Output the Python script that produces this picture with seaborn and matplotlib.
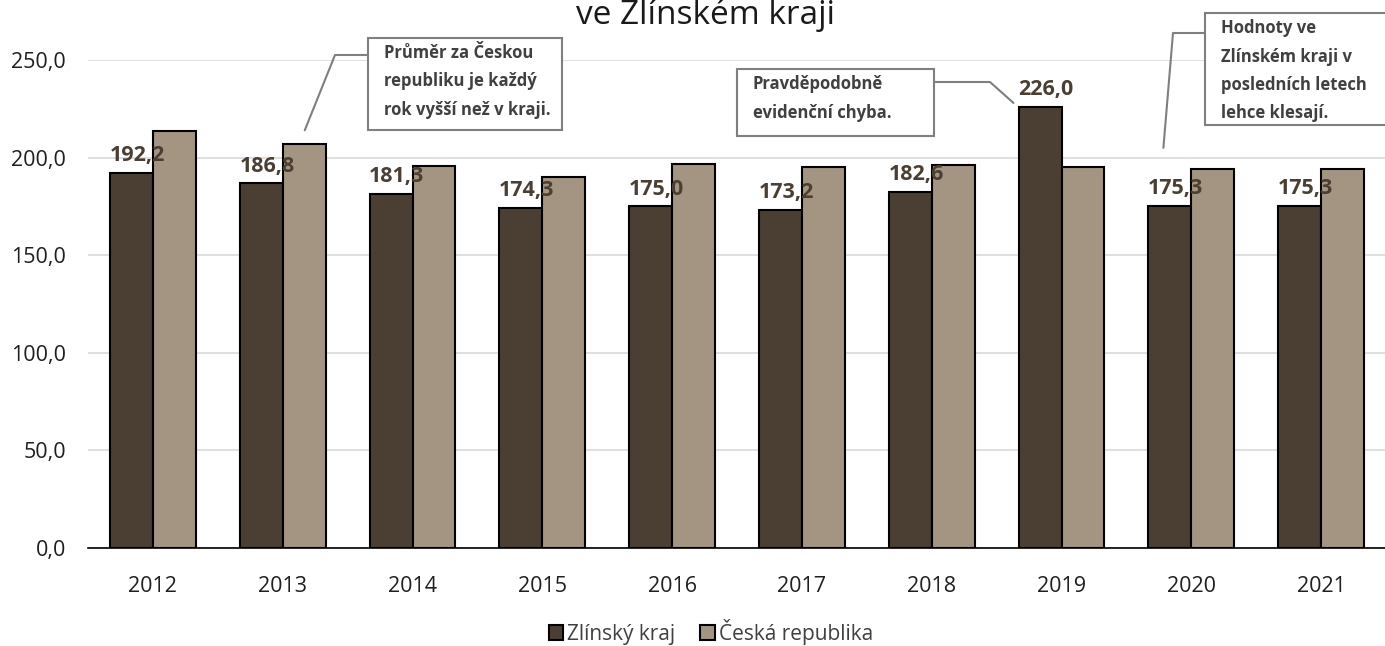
import pandas as pd
import matplotlib.pyplot as plt
from matplotlib.lines import Line2D
from matplotlib.patches import Rectangle
import seaborn as sns

# Data
years = ['2012', '2013', '2014', '2015', '2016', '2017', '2018', '2019', '2020', '2021']
zlin = [192.2, 186.8, 181.3, 174.3, 175.0, 173.2, 182.6, 226.0, 175.3, 175.3]
cr = [213.6, 207.0, 195.7, 190.1, 196.7, 195.2, 196.2, 195.2, 194.2, 194.2]
series = ['Zlínský kraj', 'Česká republika']

df = pd.DataFrame({
    'rok': years * 2,
    'hodnota': zlin + cr,
    'oblast': [series[0]] * len(years) + [series[1]] * len(years),
})

sns.set_style('white')
plt.rcParams['font.family'] = ['Open Sans', 'DejaVu Sans']

W, H = 1385, 646
fig = plt.figure(figsize=(W / 100, H / 100), dpi=100)
ax = fig.add_axes([88 / W, 1 - 548 / H, 1298 / W, 488 / H])

def px(x, y):
    # pixel position (from top-left) -> figure fraction
    return x / W, 1 - y / H

sns.barplot(data=df, x='rok', y='hodnota', hue='oblast', ax=ax,
            palette=['#4a3f32', '#a39582'], width=0.66, edgecolor='black',
            linewidth=1.5, saturation=1, zorder=2)

ax.set_ylim(0, 250)
ax.set_yticks(range(0, 251, 50))
ax.set_yticklabels([f'{v},0' for v in range(0, 251, 50)])
ax.yaxis.grid(True, color='#d9d9d9', linewidth=1.2, zorder=0)
ax.set_axisbelow(True)
for s in ['top', 'right', 'left']:
    ax.spines[s].set_visible(False)
ax.spines['bottom'].set_color('black')
ax.spines['bottom'].set_linewidth(1.2)
ax.tick_params(axis='both', length=0, labelsize=15.5, colors='#1f1f1f')
ax.tick_params(axis='x', pad=20)
ax.tick_params(axis='y', pad=16)
ax.set_xlabel('')
ax.set_ylabel('')

# data labels for Zlínský kraj
for i, v in enumerate(zlin):
    ax.text(i - 0.12, v + 3.5, f'{v:.1f}'.replace('.', ','), ha='center', va='bottom',
            fontsize=15.5, fontweight='bold', color='#4a3f32', zorder=5)

# legend
leg = ax.legend(loc='center', bbox_to_anchor=(0.48, -0.172), ncol=2, frameon=False,
                fontsize=15, handlelength=0.7, handleheight=0.7, handletextpad=0.2,
                columnspacing=1.2, borderpad=0)
for t in leg.get_texts():
    t.set_color('#404040')

# title (cut at the top of the picture)
fig.text(*px(705, 15), 've Zlínském kraji', ha='center', va='center', fontsize=24, color='#1a1a1a')

# callouts
def callout(x0, y0, x1, y1, text):
    fig.add_artist(Rectangle(px(x0, y1), (x1 - x0) / W, (y1 - y0) / H, transform=fig.transFigure,
                             facecolor='white', edgecolor='#7f7f7f', linewidth=1.5, zorder=9))
    fig.text(*px(x0 + 16, y0 + 6), text, fontsize=12, fontweight='bold', color='#404040',
             ha='left', va='top', linespacing=1.75, zorder=10)

callout(368, 38, 562, 130, 'Průměr za Českou\nrepubliku je každý\nrok vyšší než v kraji.')
callout(737, 69, 934, 136, 'Pravděpodobně\nevidenční chyba.')
callout(1205, 13, 1400, 125, 'Hodnoty ve\nZlínském kraji v\nposledních letech\nlehce klesají.')

fig.canvas.draw()
to_fig = ax.transData + fig.transFigure.inverted()

def leader(points_px, end_data):
    pts = [px(x, y) for x, y in points_px] + [tuple(to_fig.transform(end_data))]
    xs, ys = zip(*pts)
    fig.add_artist(Line2D(xs, ys, transform=fig.transFigure, color='#7f7f7f', linewidth=1.5, zorder=9))

leader([(368, 55), (335, 55)], (1 + 0.17, 214))
leader([(934, 82), (990, 82)], (7 - 0.37, 228))
leader([(1205, 33), (1173, 33)], (8 - 0.215, 205))

fig.savefig('out.png', dpi=100)
